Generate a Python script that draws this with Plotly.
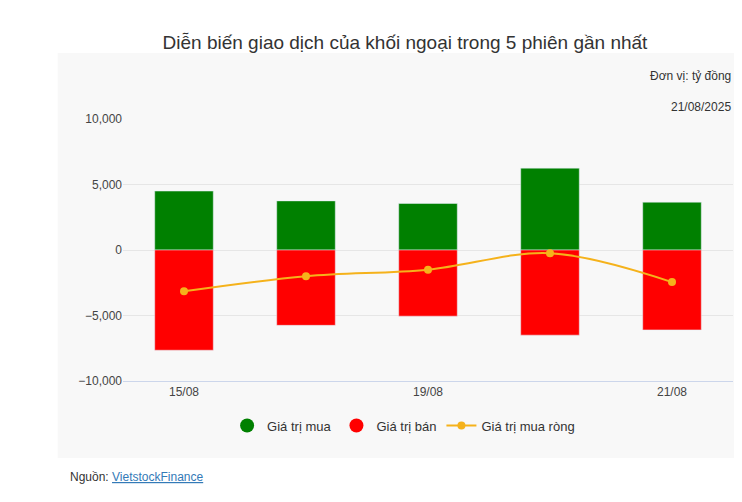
import plotly.graph_objects as go

sessions = ["15/08", "18/08", "19/08", "20/08", "21/08"]
tick_labels = ["15/08", "", "19/08", "", "21/08"]
buy = [4500, 3750, 3550, 6250, 3650]
sell = [-7650, -5750, -5050, -6500, -6100]
net = [-3150, -2000, -1500, -250, -2450]

fig = go.Figure()
fig.add_bar(x=sessions, y=buy, name="Giá trị mua", marker_color="#008000", width=0.48,
            showlegend=False, legendgroup="mua")
fig.add_bar(x=sessions, y=sell, name="Giá trị bán", marker_color="#ff0000", width=0.48,
            showlegend=False, legendgroup="ban")
# circle legend entries for the bars
fig.add_scatter(x=[None], y=[None], mode="markers", name="Giá trị mua", legendgroup="mua",
                marker=dict(size=14, color="#008000"))
fig.add_scatter(x=[None], y=[None], mode="markers", name="Giá trị bán", legendgroup="ban",
                marker=dict(size=14, color="#ff0000"))
fig.add_scatter(x=sessions, y=net, name="Giá trị mua ròng", mode="lines+markers",
                line=dict(color="#f5b21b", width=2, shape="spline"),
                marker=dict(size=8, color="#f5b21b"))

# grey panel behind the chart
fig.add_shape(type="rect", xref="paper", yref="paper", x0=-0.107, x1=1.025, y0=-0.294, y1=1.252,
              fillcolor="#f8f8f8", line_width=0, layer="below")

fig.update_layout(
    width=742, height=502, barmode="relative",
    margin=dict(l=115, r=17, t=111, b=129, autoexpand=False),
    paper_bgcolor="white", plot_bgcolor="rgba(0,0,0,0)",
    font=dict(family="Arial, Liberation Sans", color="#444", size=12),
    title=dict(text="Diễn biến giao dịch của khối ngoại trong 5 phiên gần nhất",
               x=0.535, xanchor="center", y=0.945, font=dict(size=19, color="#333")),
    legend=dict(orientation="h", x=0.46, xanchor="center", y=-0.17, yanchor="middle",
                font=dict(size=13, color="#333"), bgcolor="rgba(0,0,0,0)"),
    bargap=0.5,
)
fig.update_xaxes(tickvals=sessions, ticktext=tick_labels, showgrid=False,
                 showline=True, linecolor="#ccd6eb", ticks="", tickfont=dict(size=12))
fig.update_yaxes(range=[-10000, 10000], tickvals=[-10000, -5000, 0, 5000, 10000],
                 tickformat=",", gridcolor="#e6e6e6", zeroline=False, ticks="")

fig.add_annotation(text="Đơn vị: tỷ đồng", xref="paper", yref="paper", x=1.0, y=1.164,
                   xanchor="right", yanchor="middle", showarrow=False, font=dict(size=12, color="#333"))
fig.add_annotation(text="21/08/2025", xref="paper", yref="paper", x=1.0, y=1.046,
                   xanchor="right", yanchor="middle", showarrow=False, font=dict(size=12, color="#333"))
fig.add_annotation(text="Nguồn: <a href='https://finance.vietstock.vn' style='color:#337ab7'><u>VietstockFinance</u></a>",
                   xref="paper", yref="paper", x=-0.09, y=-0.40, xanchor="left", showarrow=False,
                   font=dict(size=12, color="#333"))

fig.write_html("out.html")
